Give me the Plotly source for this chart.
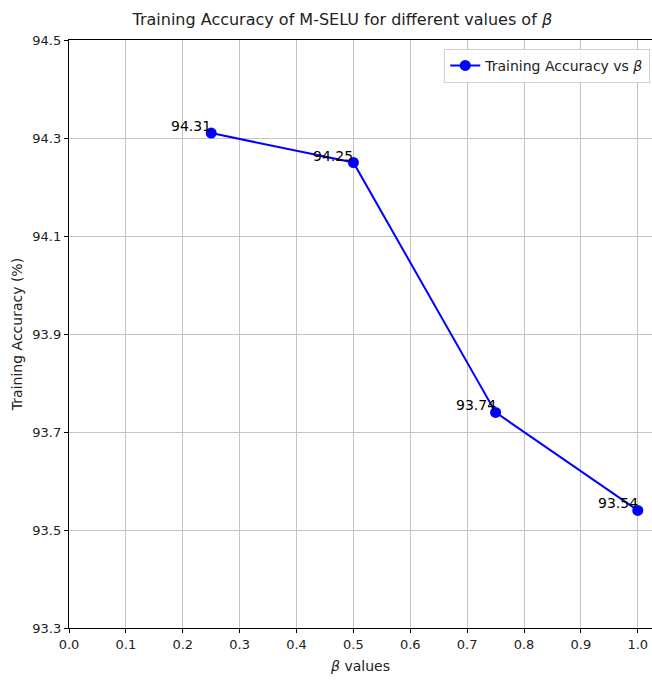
import plotly.graph_objects as go

beta = [0.25, 0.5, 0.75, 1.0]
acc = [94.31, 94.25, 93.74, 93.54]
labels = ["94.31", "94.25", "93.74", "93.54"]
xticks = [0.0, 0.1, 0.2, 0.3, 0.4, 0.5, 0.6, 0.7, 0.8, 0.9, 1.0]
yticks = [93.3, 93.5, 93.7, 93.9, 94.1, 94.3, 94.5]

FONT = "DejaVu Sans"

fig = go.Figure()
fig.add_trace(go.Scatter(
    x=beta, y=acc, mode="lines+markers",
    name="Training Accuracy vs <i>β</i>",
    line=dict(color="#0000ff", width=2),
    marker=dict(color="#0000ff", size=11),
))

for xv, yv, t in zip(beta, acc, labels):
    fig.add_annotation(x=xv, y=yv, text=t, showarrow=False,
                       xanchor="right", yanchor="middle", xshift=2, yshift=7,
                       font=dict(family=FONT, size=14, color="black"))

axis_common = dict(
    showline=True, linecolor="black", linewidth=1.3, mirror=True,
    ticks="outside", ticklen=4, tickcolor="black",
    showgrid=True, gridcolor="#c4c4c4", gridwidth=1, zeroline=False,
    tickfont=dict(family=FONT, size=13, color="#222222"),
)

fig.update_layout(
    width=652, height=684,
    margin=dict(l=69, r=0, t=40, b=56),
    paper_bgcolor="white", plot_bgcolor="white",
    title=dict(text="Training Accuracy of M-SELU for different values of <i>β</i>",
               x=0.525, xanchor="center", y=0.972, yanchor="middle",
               font=dict(family=FONT, size=16, color="#222222")),
    xaxis=dict(range=[0, 1.025], tickvals=xticks,
               ticktext=[f"{v:.1f}" for v in xticks],
               title=dict(text="<i>β</i> values", standoff=10,
                          font=dict(family=FONT, size=14, color="#222222")),
               **axis_common),
    yaxis=dict(range=[93.3, 94.5], tickvals=yticks,
               ticktext=[f"{v:.1f}" for v in yticks],
               title=dict(text="Training Accuracy (%)", standoff=6,
                          font=dict(family=FONT, size=14, color="#222222")),
               **axis_common),
    legend=dict(x=0.997, y=0.985, xanchor="right", yanchor="top",
                bgcolor="rgba(255,255,255,0.9)", bordercolor="#d0d0d0", borderwidth=1,
                font=dict(family=FONT, size=14, color="#222222")),
    showlegend=True,
)

fig.write_html("out.html")
